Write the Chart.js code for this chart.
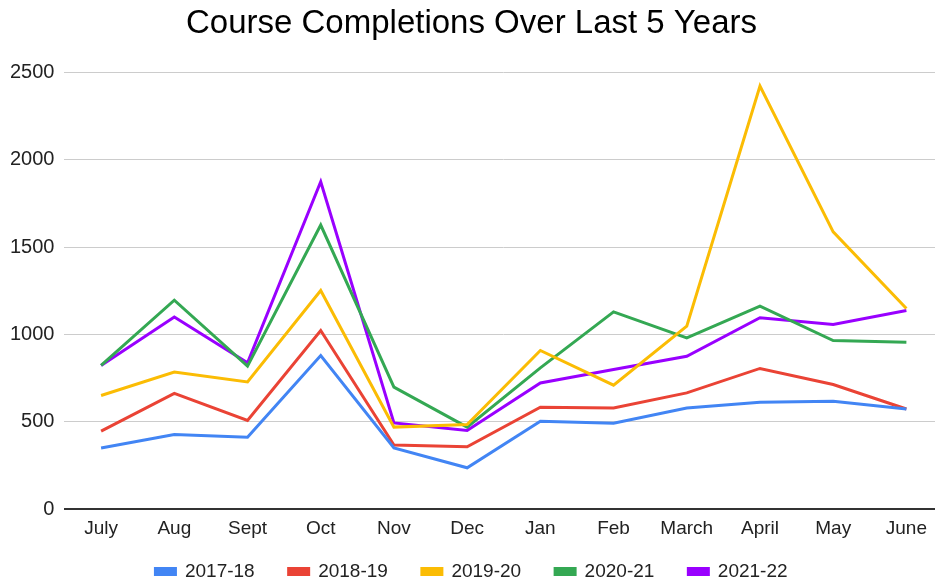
<!DOCTYPE html>
<html>
<head>
<meta charset="utf-8">
<script src="https://cdn.jsdelivr.net/npm/chart.js@4/dist/chart.umd.min.js"></script>
<style>
  html, body { margin: 0; padding: 0; background: #fff; overflow: hidden; }
  #wrap { width: 945px; height: 582px; }
</style>
</head>
<body>
<div id="wrap"><canvas id="myChart"></canvas></div>
<script>
var months = ["July", "Aug", "Sept", "Oct", "Nov", "Dec", "Jan", "Feb", "March", "April", "May", "June"];
var yTicks = [0, 500, 1000, 1500, 2000, 2500];

var y2017 = [351, 428, 412, 880, 351, 237, 504, 492, 580, 613, 618, 574];
var y2018 = [447, 663, 508, 1023, 367, 357, 584, 580, 666, 806, 714, 574];
var y2019 = [651, 785, 729, 1252, 470, 485, 909, 710, 1048, 2423, 1588, 1149];
var y2020 = [823, 1197, 819, 1627, 699, 470, 809, 1130, 981, 1163, 966, 956];
var y2021 = [823, 1100, 838, 1875, 494, 451, 723, 800, 876, 1096, 1058, 1138];

function line(label, color, data) {
  return {
    label: label,
    data: data,
    borderColor: color,
    backgroundColor: color,
    borderWidth: 3,
    pointRadius: 0,
    tension: 0
  };
}

// legend gets wide gaps between items but should stay short in height
var legendHeight = {
  id: 'legendHeight',
  beforeLayout: function (chart) {
    var lg = chart.legend;
    if (!lg || lg._patched) return;
    var fit = lg.fit;
    var draw = lg.draw;
    lg.fit = function () {
      fit.call(this);
      this.height = 34;
    };
    lg.draw = function () {
      var t = this.top;
      this.top = t - 20;
      draw.apply(this, arguments);
      this.top = t;
    };
    lg._patched = true;
  }
};

Chart.defaults.font.family = "'Liberation Sans', Arial, sans-serif";
Chart.defaults.color = "#222";

new Chart(document.getElementById("myChart"), {
  type: 'line',
  data: {
    labels: months,
    datasets: [
      line("2017-18", "#4285F4", y2017),
      line("2018-19", "#EA4335", y2018),
      line("2019-20", "#FBBC04", y2019),
      line("2020-21", "#34A853", y2020),
      line("2021-22", "#9900FF", y2021)
    ]
  },
  plugins: [legendHeight],
  options: {
    responsive: true,
    maintainAspectRatio: false,
    animation: false,
    layout: { padding: { left: 0, right: 2, top: 4, bottom: 0 } },
    plugins: {
      title: {
        display: true,
        text: 'Course Completions Over Last 5 Years',
        color: '#000',
        font: { size: 33, weight: 'normal' },
        padding: { top: 0, bottom: 29 }
      },
      legend: {
        position: 'bottom',
        labels: {
          boxWidth: 20,
          boxHeight: 6,
          padding: 34,
          color: '#222',
          font: { size: 19 }
        }
      },
      tooltip: { enabled: false }
    },
    scales: {
      x: {
        offset: true,
        grid: { display: false, drawTicks: false },
        border: { display: false },
        ticks: { font: { size: 19 }, color: '#222', padding: 8, maxRotation: 0 }
      },
      y: {
        min: 0,
        max: 2500,
        afterBuildTicks: function (axis) {
          axis.ticks = yTicks.map(function (v) { return { value: v }; });
        },
        grid: {
          drawTicks: false,
          lineWidth: function (c) { return c.tick && c.tick.value === 0 ? 2 : 1; },
          color: function (c) { return c.tick && c.tick.value === 0 ? '#333' : '#ccc'; }
        },
        border: { display: false },
        ticks: {
          font: { size: 20 },
          color: '#222',
          padding: 10,
          callback: function (v) { return String(v); }
        }
      }
    }
  }
});
</script>
</body>
</html>
